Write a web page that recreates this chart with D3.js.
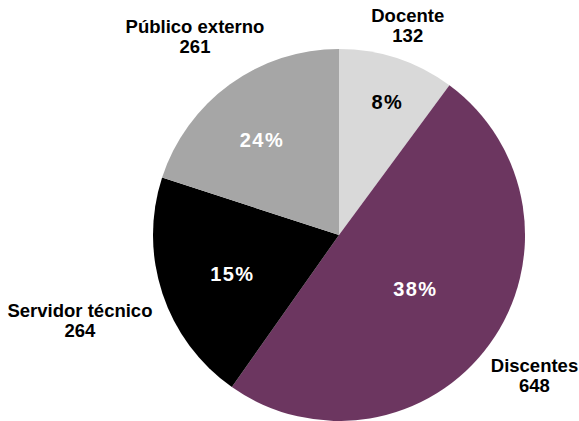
<!DOCTYPE html>
<html><head><meta charset="utf-8">
<script src="https://cdn.jsdelivr.net/npm/d3@7/dist/d3.min.js"></script>
<style>html,body{margin:0;padding:0;background:#fff;}svg{display:block;}</style>
</head><body>
<svg id="chart" width="579" height="421"></svg>
<script>
// Data
const categories = ["Docente", "Discentes", "Servidor técnico", "Público externo"];
const values = [132, 648, 264, 261];
const percentLabels = ["8%", "38%", "15%", "24%"];

// Styling / layout (kept separate from data)
const colors = ["#d9d9d9", "#6c3660", "#000000", "#a6a6a6"];
const pctColors = ["#000000", "#ffffff", "#ffffff", "#ffffff"];
const pctRadius = [141, 93, 114, 123];
const pctAngleShift = [1.5, -0.3, -1.3, -3.2];   // degrees
const nameRadius = [220, 241, 273, 245];

const W = 579, H = 421, cx = 339, cy = 235, R = 186;
const svg = d3.select("#chart");
const g = svg.append("g").attr("transform", `translate(${cx},${cy})`);

const pie = d3.pie().sort(null).value(d => d.v);
const arcs = pie(categories.map((c, i) => ({c, v: values[i], i})));
const arc = d3.arc().innerRadius(0).outerRadius(R);

g.selectAll("path.slice").data(arcs).join("path")
  .attr("class", "slice")
  .attr("d", arc)
  .attr("fill", d => colors[d.data.i]);

function pos(d, r, shiftDeg) {
  const a = (d.startAngle + d.endAngle) / 2 + (shiftDeg || 0) * Math.PI / 180;
  return [Math.sin(a) * r, -Math.cos(a) * r];
}

g.selectAll("text.pct").data(arcs).join("text")
  .attr("class", "pct")
  .attr("x", d => pos(d, pctRadius[d.data.i], pctAngleShift[d.data.i])[0] + 0.7)
  .attr("y", d => pos(d, pctRadius[d.data.i], pctAngleShift[d.data.i])[1])
  .attr("dy", "0.36em")
  .attr("text-anchor", "middle")
  .attr("font-family", "'Liberation Sans', Arial, sans-serif")
  .attr("font-weight", "bold")
  .attr("font-size", 20)
  .attr("letter-spacing", 1.4)
  .attr("fill", d => pctColors[d.data.i])
  .text(d => percentLabels[d.data.i]);

const lbl = g.selectAll("text.name").data(arcs).join("text")
  .attr("class", "name")
  .attr("text-anchor", "middle")
  .attr("font-family", "'Liberation Sans', Arial, sans-serif")
  .attr("font-weight", "bold")
  .attr("font-size", 18.5)
  .attr("fill", "#000")
  .attr("transform", d => { const p = pos(d, nameRadius[d.data.i]); return `translate(${p[0]},${p[1]})`; });
lbl.append("tspan").attr("x", 0).attr("y", -4).text(d => d.data.c);
lbl.append("tspan").attr("x", 0).attr("y", 16).text(d => d.data.v);
</script>
</body></html>
